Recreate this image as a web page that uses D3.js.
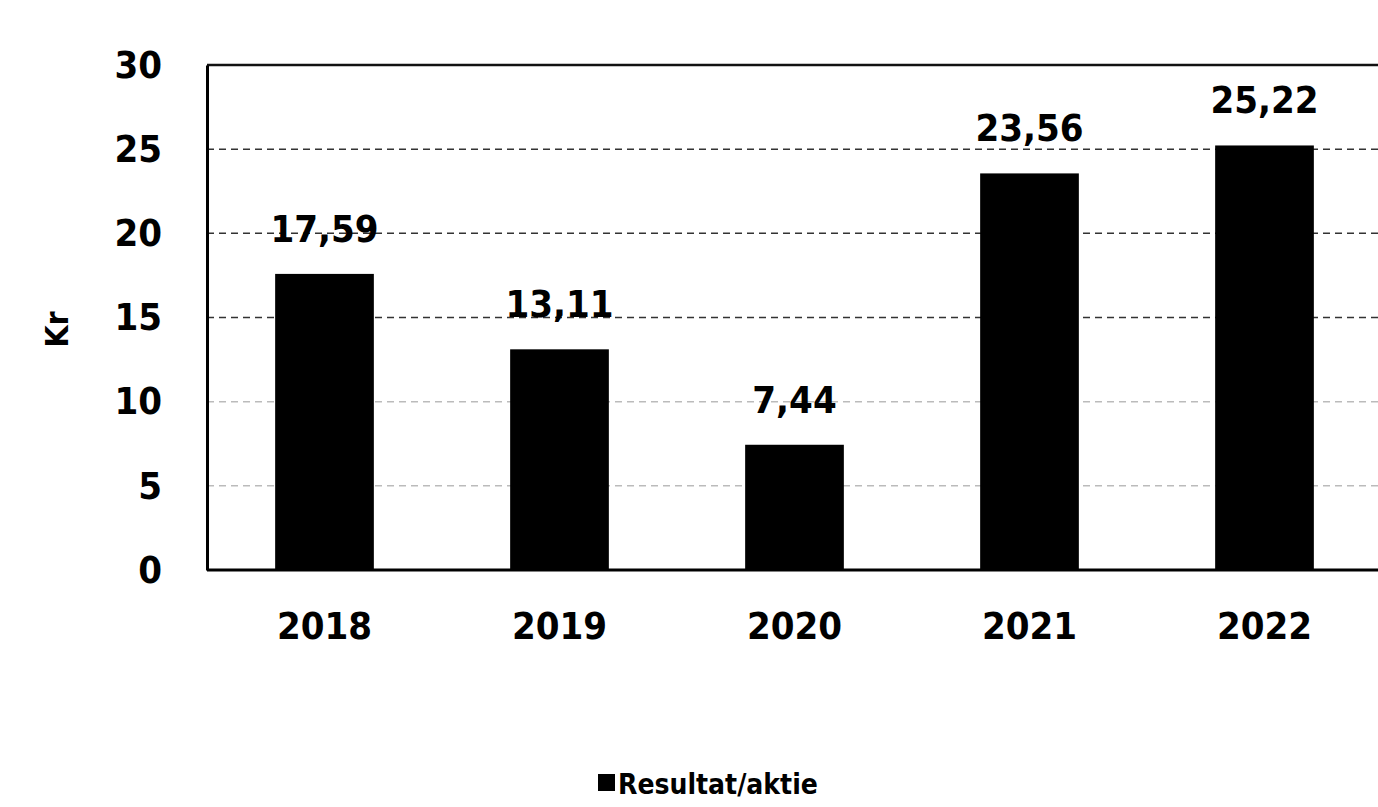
<!DOCTYPE html>
<html>
<head>
<meta charset="utf-8">
<script src="https://cdn.jsdelivr.net/npm/d3@7"></script>
<style>
  body { margin: 0; background: #fff; }
  text { font-family: "DejaVu Sans Condensed", "DejaVu Sans", sans-serif; fill: #000; }
</style>
</head>
<body>
<script>
// data
var years = ["2018", "2019", "2020", "2021", "2022"];
var values = [17.59, 13.11, 7.44, 23.56, 25.22];
var yTicks = [0, 5, 10, 15, 20, 25, 30];
var seriesName = "Resultat/aktie";
var unitLabel = "Kr";

var svgW = 1378, svgH = 807;
var plotLeft = 207, plotRight = 1382, plotTop = 65, plotBottom = 570;

var svg = d3.select("body").append("svg")
    .attr("width", svgW)
    .attr("height", svgH);

var x = d3.scaleBand()
    .domain(years)
    .range([plotLeft, plotRight])
    .paddingInner(0.58)
    .paddingOuter(0.29);

var y = d3.scaleLinear()
    .domain([0, 30])
    .range([plotBottom, plotTop]);

// gridlines
svg.append("g")
    .selectAll("line")
    .data(yTicks.filter(function (d) { return d > 0 && d < 30; }))
    .enter()
    .append("line")
    .attr("x1", plotLeft)
    .attr("x2", svgW)
    .attr("y1", function (d) { return y(d); })
    .attr("y2", function (d) { return y(d); })
    .attr("stroke", function (d) { return d >= 15 ? "#333" : "#bbb"; })
    .attr("stroke-width", 1.5)
    .attr("stroke-dasharray", "7,5");

// top border
svg.append("line")
    .attr("x1", plotLeft).attr("x2", svgW)
    .attr("y1", y(30)).attr("y2", y(30))
    .attr("stroke", "#111").attr("stroke-width", 2.5);

// bars
svg.selectAll("rect.bar")
    .data(values)
    .enter()
    .append("rect")
    .attr("class", "bar")
    .attr("x", function (d, i) { return x(years[i]); })
    .attr("y", function (d) { return y(d); })
    .attr("width", x.bandwidth())
    .attr("height", function (d) { return y(0) - y(d); })
    .attr("fill", "#000");

// value labels
svg.selectAll("text.val")
    .data(values)
    .enter()
    .append("text")
    .attr("class", "val")
    .attr("x", function (d, i) { return x(years[i]) + x.bandwidth() / 2; })
    .attr("y", function (d) { return y(d) - 32; })
    .attr("text-anchor", "middle")
    .attr("font-size", "38px")
    .attr("font-weight", "bold")
    .text(function (d) { return d.toFixed(2).replace(".", ","); });

// y axis
var yAxis = svg.append("g")
    .attr("transform", "translate(" + plotLeft + ",0)")
    .call(d3.axisLeft(y).tickValues(yTicks).tickSize(0).tickPadding(45));
yAxis.select(".domain").attr("stroke", "#000").attr("stroke-width", 3);
yAxis.selectAll("text")
    .attr("font-size", "38px")
    .attr("font-weight", "bold")
    .attr("font-family", "DejaVu Sans Condensed, DejaVu Sans, sans-serif");

// x axis
var xAxis = svg.append("g")
    .attr("transform", "translate(0," + plotBottom + ")")
    .call(d3.axisBottom(x).tickSize(0).tickPadding(42));
xAxis.select(".domain").attr("d", "M" + plotLeft + ",0H" + svgW)
    .attr("stroke", "#000").attr("stroke-width", 3);
xAxis.selectAll("text")
    .attr("font-size", "38px")
    .attr("font-weight", "bold")
    .attr("font-family", "DejaVu Sans Condensed, DejaVu Sans, sans-serif");

// axis title
svg.append("text")
    .attr("transform", "translate(68," + ((plotTop + plotBottom) / 2 + 12) + ") rotate(-90)")
    .attr("text-anchor", "middle")
    .attr("font-size", "32px")
    .attr("font-weight", "bold")
    .text(unitLabel);

// legend
var legend = svg.append("g").attr("transform", "translate(598,782)");
legend.append("rect")
    .attr("x", 0).attr("y", -8)
    .attr("width", 17).attr("height", 17)
    .attr("fill", "#000");
legend.append("text")
    .attr("x", 20).attr("y", 12)
    .attr("font-size", "28px")
    .attr("font-weight", "bold")
    .text(seriesName);
</script>
</body>
</html>
